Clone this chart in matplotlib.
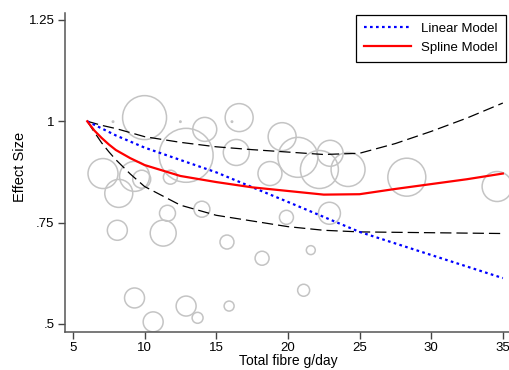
import numpy as np
import matplotlib
matplotlib.use("Agg")
import matplotlib.pyplot as plt

plt.rcParams["font.family"] = ["Liberation Sans", "DejaVu Sans"]

# study bubbles: fibre intake, effect size, relative weight
study_x = [10.0, 12.9, 14.2, 7.1, 9.3, 9.8, 8.2, 11.8, 14.0, 11.6, 8.1, 11.3,
           9.3, 12.9, 13.7, 10.6, 19.9, 22.9, 15.75, 18.2, 21.6, 21.1, 15.9,
           16.6, 16.4, 19.6, 20.7, 22.95, 18.75, 22.2, 24.2, 28.3, 34.6,
           7.8, 12.5, 16.1]
study_y = [1.009, 0.916, 0.980, 0.871, 0.864, 0.857, 0.822, 0.862, 0.783, 0.773,
           0.731, 0.724, 0.564, 0.544, 0.515, 0.505, 0.763, 0.773, 0.702, 0.662,
           0.682, 0.583, 0.544, 1.009, 0.923, 0.962, 0.911, 0.921, 0.871, 0.881,
           0.881, 0.862, 0.839, 0.999, 0.999, 0.999]
study_w = [48.4, 72.9, 14.4, 22.5, 22.5, 8.1, 19.6, 4.9, 6.4, 6.4, 10.0, 16.9,
           10.0, 10.0, 3.0, 10.0, 4.9, 12.1, 4.9, 4.9, 2.0, 3.6, 2.5,
           19.6, 16.9, 19.6, 40.0, 16.9, 14.4, 36.1, 28.9, 36.1, 22.5,
           0.05, 0.05, 0.05]

# fitted curves
fit_x = [6, 6.5, 7, 7.5, 8, 9, 10, 12.5, 15, 17.5, 20, 22.5, 25, 27.5, 30,
         32.5, 35]
spline = [1.0, 0.977, 0.959, 0.943, 0.929, 0.909, 0.892, 0.865, 0.850, 0.837,
          0.828, 0.819, 0.820, 0.833, 0.845, 0.857, 0.871]
upper = [1.0, 0.995, 0.990, 0.986, 0.982, 0.972, 0.962, 0.948, 0.937, 0.930,
         0.924, 0.918, 0.921, 0.945, 0.975, 1.008, 1.045]
lower = [1.0, 0.973, 0.947, 0.925, 0.905, 0.870, 0.839, 0.793, 0.768, 0.754,
         0.740, 0.731, 0.727, 0.726, 0.725, 0.724, 0.723]

lin_x = [6, 8, 10, 15, 20, 25, 30, 35]
linear = [1.0, 0.965, 0.935, 0.874, 0.801, 0.727, 0.670, 0.613]

xticks = [5, 10, 15, 20, 25, 30, 35]
yticks = [0.5, 0.75, 1.0, 1.25]
ytick_labels = [".5", ".75", "1", "1.25"]

fig = plt.figure(figsize=(5.1, 3.7), dpi=100)
ax = fig.add_axes([0.1275, 0.1027, 0.8725, 0.862])

ax.scatter(study_x, study_y, s=np.array(study_w) * 20.7, facecolors="none",
           edgecolors="#c4c4c4", linewidths=1.1, zorder=1)

ax.plot(fit_x, upper, color="black", lw=0.9, dashes=(9, 4), zorder=2)
ax.plot(fit_x, lower, color="black", lw=0.9, dashes=(9, 4), zorder=2)
ax.plot(lin_x, linear, color="blue", lw=1.6, linestyle=(0, (1.2, 1.5)),
        label="Linear Model", zorder=3)
ax.plot(fit_x, spline, color="red", lw=1.6, label="Spline Model", zorder=3)

ax.set_xlim(4.45, 35.5)
ax.set_ylim(0.48, 1.267)
ax.set_xticks(xticks)
ax.set_yticks(yticks)
ax.set_yticklabels(ytick_labels)
ax.tick_params(direction="out", length=5, width=1, color="#444444",
               labelsize=9.5, pad=2.5)
for side in ["top", "right"]:
    ax.spines[side].set_visible(False)
for side in ["left", "bottom"]:
    ax.spines[side].set_color("#555555")
    ax.spines[side].set_linewidth(1.1)

ax.set_xlabel("Total fibre g/day", fontsize=10)
ax.set_ylabel("Effect Size", fontsize=10.5)
ax.xaxis.set_label_coords(0.502, -0.069)
ax.yaxis.set_label_coords(-0.085, 0.518)

leg = ax.legend(loc="upper right", bbox_to_anchor=(0.99, 0.995),
                borderaxespad=0, fontsize=9.5, handlelength=3.6,
                handletextpad=0.75, borderpad=0.6,
                fancybox=False, framealpha=1, edgecolor="black")
leg.get_frame().set_linewidth(0.9)

fig.savefig("out.png", dpi=100)
